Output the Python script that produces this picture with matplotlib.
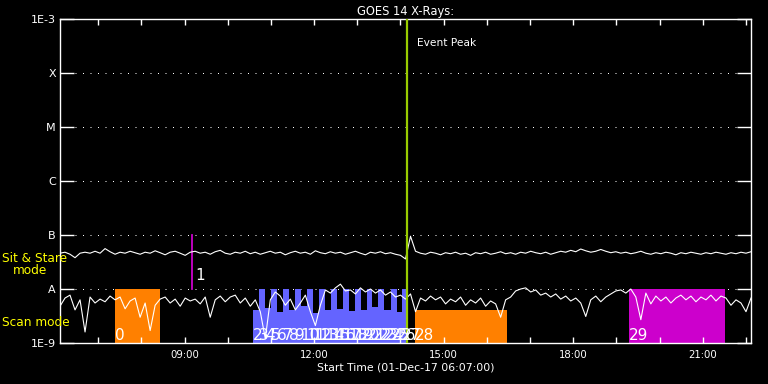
import numpy as np
import matplotlib.pyplot as plt
from matplotlib.transforms import blended_transform_factory

# ----------------------------------------------------
# GOES 14 X-ray flux with instrument pointing boxes
# ----------------------------------------------------

t_start = 6 + 7 / 60.0          # 06:07
t_end = t_start + 16.0

# flux in units of 1e-9 W/m^2
upper = [46, 48, 44, 38, 46, 48, 46, 50, 46, 56, 49, 44, 48, 46, 50, 47, 44, 48, 46, 51,
         47, 43, 48, 50, 46, 42, 48, 50, 46, 48, 44, 49, 52, 46, 44, 48, 46, 50, 45, 48,
         44, 47, 50, 46, 48, 43, 47, 50, 46, 48, 44, 51, 47, 45, 49, 46, 48, 44, 47, 50,
         46, 43, 48, 46, 49, 45, 47, 44, 42, 36, 95, 50, 46, 44, 48, 46, 43, 47, 45, 48,
         44, 46, 42, 47, 45, 48, 44, 46, 49, 45, 47, 44, 48, 46, 50, 47, 45, 48, 44, 47,
         50, 48, 52, 49, 55, 51, 48, 50, 54, 50, 47, 49, 46, 48, 45, 47, 50, 46, 44, 47,
         45, 48, 46, 43, 47, 45, 48, 46, 44, 47, 45, 48, 46, 44, 47, 45, 48, 46, 49]

lower = [4.8, 6.8, 7.7, 4.1, 6.3, 1.6, 7.1, 5.5, 6.5, 5.8,
         7.4, 6.3, 7.1, 4.3, 6.0, 6.8, 3.0, 5.5, 1.7, 5.0,
         6.5, 7.1, 5.5, 6.5, 4.8, 6.8, 6.0, 6.5, 5.3, 7.1,
         3.0, 6.3, 7.4, 5.8, 7.1, 7.7, 5.5, 6.8, 4.8, 6.3,
         3.8, 1.2, 6.3, 8.8, 7.4, 5.0, 6.5, 4.1, 5.5, 7.7,
         3.8, 2.1, 5.0, 9.6, 8.4, 10.5, 12.3, 9.2, 9.6, 8.1,
         10.5, 8.8, 10.0, 8.4, 9.6, 7.7, 8.8, 7.1, 7.7, 6.5,
         8.1, 3.8, 6.8, 6.0, 7.4, 6.3, 7.1, 5.3, 6.5, 5.8,
         7.1, 5.0, 6.3, 5.5, 6.8, 4.8, 6.0, 5.3, 3.0, 6.3,
         7.1, 9.2, 10.0, 10.5, 8.8, 9.6, 7.7, 8.4, 7.1, 8.1,
         6.5, 7.4, 6.0, 6.8, 5.5, 3.1, 6.3, 7.4, 5.8, 7.1,
         8.1, 9.2, 9.6, 8.4, 10.0, 7.1, 2.7, 8.4, 5.3, 7.4,
         6.0, 7.1, 5.5, 6.8, 7.7, 6.3, 7.4, 5.8, 7.1, 6.3,
         7.7, 6.0, 7.4, 6.8, 5.0, 6.3, 5.5, 3.8, 6.8]

y_levels = [1e-9, 1e-8, 1e-7, 1e-6, 1e-5, 1e-4, 1e-3]
y_labels = ['1E-9', 'A', 'B', 'C', 'M', 'X', '1E-3']

event_time = 14.15

# sit & stare / single boxes: (start, end, top flux, colour, label)
boxes = [(7.39, 8.43, 1e-8, '#ff8000', '0'),
         (14.34, 16.47, 4.1e-9, '#ff8000', '28'),
         (19.29, 21.51, 1e-8, '#cc00cc', '29')]
mark_time = 9.18          # pointing 1 (instantaneous)

# scan mode pointings 2..27
scan_edges = [10.59, 10.72, 10.86, 11.00, 11.14, 11.28, 11.42, 11.56, 11.69, 11.83,
              11.97, 12.11, 12.25, 12.39, 12.52, 12.66, 12.80, 12.94, 13.08, 13.22,
              13.35, 13.49, 13.63, 13.77, 13.91, 14.04, 14.17]
scan_tops = [4.1e-9, 1e-8, 4.5e-9, 1e-8, 3.8e-9, 1e-8, 4.1e-9, 1e-8, 4.8e-9, 1e-8,
             3.6e-9, 1e-8, 4.1e-9, 1e-8, 4.3e-9, 1e-8, 3.9e-9, 1e-8, 4.1e-9, 1e-8,
             4.6e-9, 1e-8, 4.1e-9, 1e-8, 3.8e-9, 1e-8]
scan_labels = [str(n) for n in range(2, 28)]

my_dpi = 100
fig = plt.figure(figsize=(768 / my_dpi, 384 / my_dpi), dpi=my_dpi, facecolor='black')
ax = fig.add_axes([60 / 768, 41 / 384, 691 / 768, 324 / 384], facecolor='black')
ax.set_yscale('log')
ax.set_xlim(t_start, t_end)
ax.set_ylim(1e-9, 1e-3)

bottom = 1e-9
for s, e, top, col, lab in boxes:
    ax.fill_between([s, e], bottom, top, color=col, lw=0, zorder=1)
    ax.text(s, 1.14e-9, lab, color='white', fontsize=11, ha='left', va='baseline', zorder=5)

for i, lab in enumerate(scan_labels):
    ax.fill_between([scan_edges[i], scan_edges[i + 1]], bottom, scan_tops[i],
                    color='#6464ff', lw=0, zorder=1)
    ax.text(scan_edges[i], 1.14e-9, lab, color='white', fontsize=11,
            ha='left', va='baseline', zorder=5)

ax.plot([mark_time, mark_time], [1e-8, 1e-7], color='#cc00cc', lw=1.3, zorder=2)
ax.text(mark_time + 0.07, 1.47e-8, '1', color='white', fontsize=11, ha='left',
        va='baseline', zorder=5)

# grid
for lv in y_levels[1:-1]:
    ax.axhline(lv, color='white', lw=0.72, dashes=(1, 6.5), zorder=0)

times = np.linspace(t_start, t_end, len(upper))
ax.plot(times, np.array(upper) * 1e-9, color='white', lw=0.8, zorder=3)
ax.plot(times, np.array(lower) * 1e-9, color='white', lw=0.8, zorder=3)

ax.axvline(event_time, color='#99cc00', lw=1.6, zorder=4)
trans = blended_transform_factory(ax.transData, ax.transAxes)
ax.text(event_time + 0.23, 0.926, 'Event Peak', color='white', fontsize=7.7,
        ha='left', va='center', transform=trans)

# axes styling
for sp in ax.spines.values():
    sp.set_color('white')
    sp.set_linewidth(1.0)

ax.set_yticks(y_levels)
ax.set_yticklabels(y_labels)
ax.yaxis.set_minor_locator(plt.NullLocator())
ax.tick_params(axis='y', which='major', direction='in', length=10, width=1,
               colors='white', labelsize=8, right=True, pad=3)

hours = list(range(7, 23))
ax.set_xticks(hours)
ax.set_xticklabels(['%02d:00' % h if h % 3 == 0 else '' for h in hours])
ax.tick_params(axis='x', which='major', direction='in', length=4.5, width=1,
               colors='white', labelsize=7.3, top=True, pad=5)

ax.set_title('GOES 14 X-Rays:', color='white', fontsize=8.3, pad=3)
ax.set_xlabel('Start Time (01-Dec-17 06:07:00)', color='white', fontsize=7.8, labelpad=2)

fig.text(2 / 768, 1 - 258 / 384, 'Sit & Stare', color='yellow', fontsize=8.7, va='center')
fig.text(13 / 768, 1 - 271 / 384, 'mode', color='yellow', fontsize=8.7, va='center')
fig.text(2 / 768, 1 - 323 / 384, 'Scan mode', color='yellow', fontsize=8.7, va='center')

fig.savefig('out.png', dpi=my_dpi, facecolor='black')
